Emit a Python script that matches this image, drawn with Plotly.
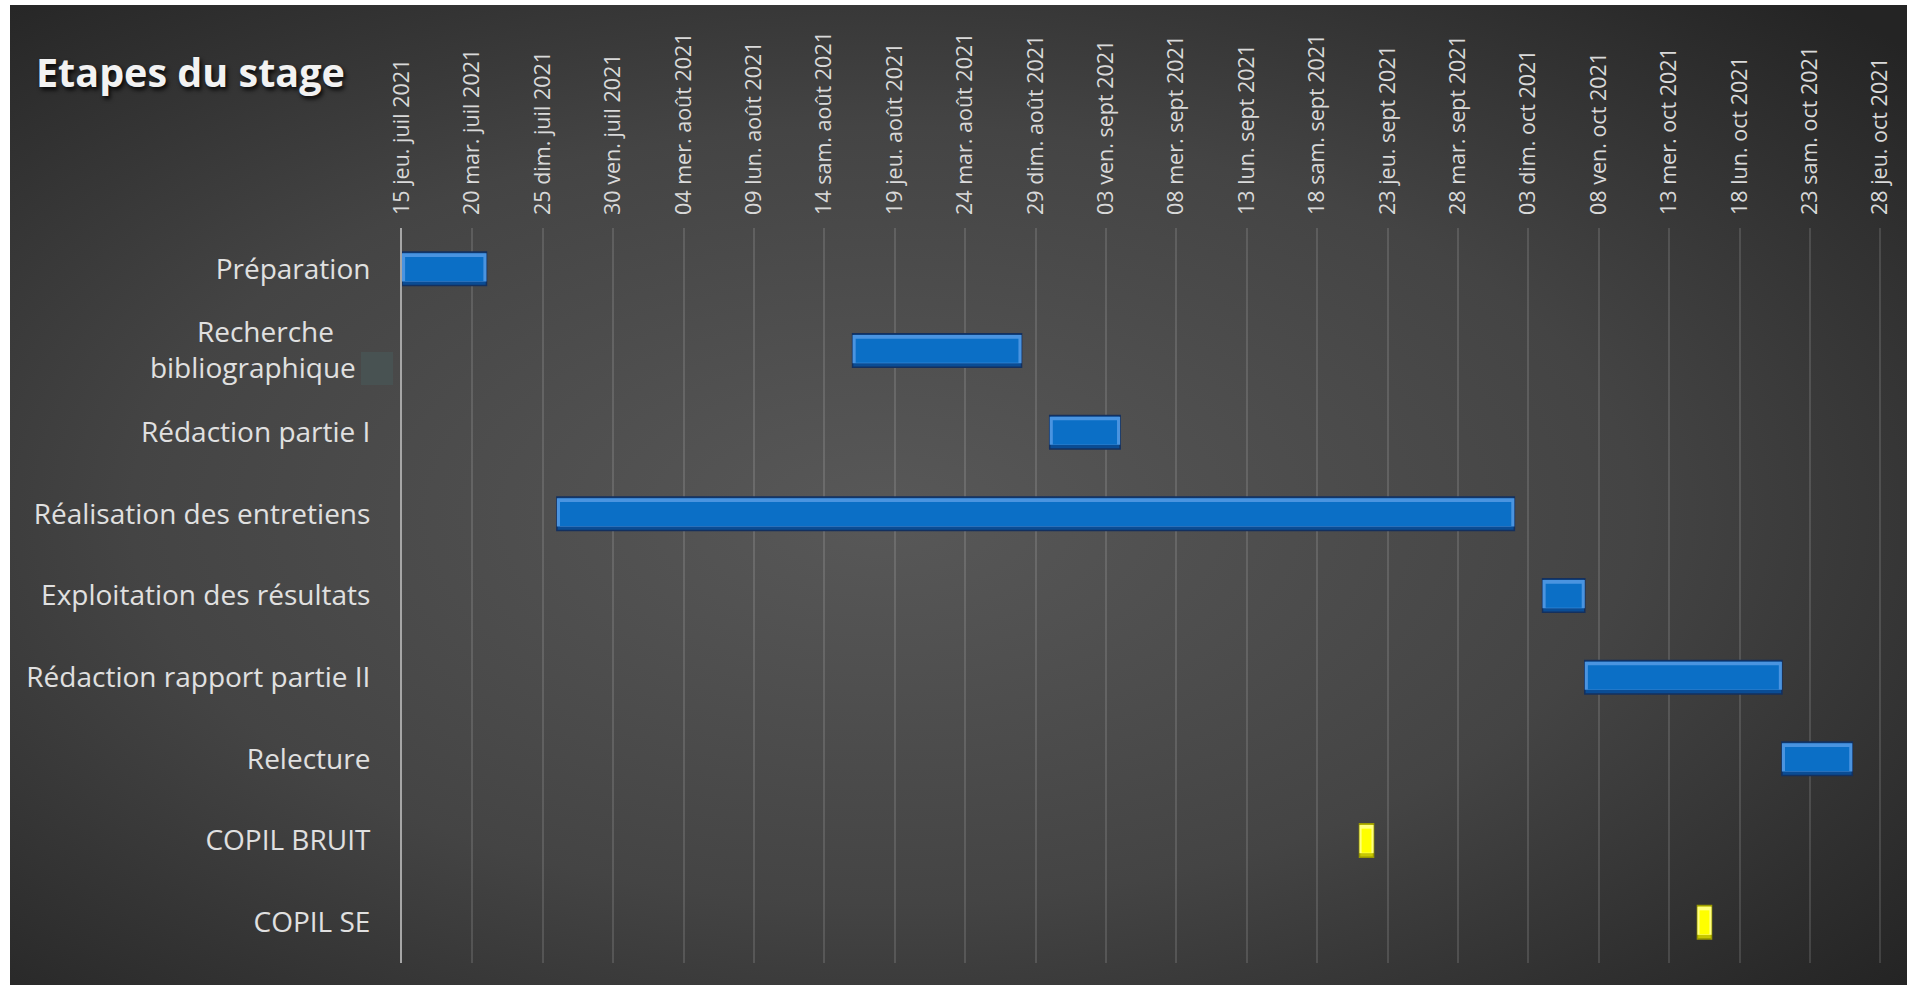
import base64
import pandas as pd
import plotly.graph_objects as go

# ---------------- data ----------------
tasks = [
    "Préparation",
    "Recherche bibliographique",
    "Rédaction partie I",
    "Réalisation des entretiens",
    "Exploitation des résultats",
    "Rédaction rapport partie II",
    "Relecture",
    "COPIL BRUIT",
    "COPIL SE",
]
task_labels = [
    "Préparation",
    "Recherche" + "\u00a0" * 5 + "<br>bibliographique" + "\u00a0" * 2,
    "Rédaction partie I",
    "Réalisation des entretiens",
    "Exploitation des résultats",
    "Rédaction rapport partie II",
    "Relecture",
    "COPIL BRUIT",
    "COPIL SE",
]
start_dates = [
    "2021-07-15", "2021-08-16", "2021-08-30", "2021-07-26", "2021-10-04",
    "2021-10-07", "2021-10-21", "2021-09-21", "2021-10-15",
]
duration_days = [6, 12, 5, 68, 3, 14, 5, 1, 1]
kinds = ["etape"] * 7 + ["copil"] * 2

tick_dates = [
    "2021-07-15", "2021-07-20", "2021-07-25", "2021-07-30", "2021-08-04",
    "2021-08-09", "2021-08-14", "2021-08-19", "2021-08-24", "2021-08-29",
    "2021-09-03", "2021-09-08", "2021-09-13", "2021-09-18", "2021-09-23",
    "2021-09-28", "2021-10-03", "2021-10-08", "2021-10-13", "2021-10-18",
    "2021-10-23", "2021-10-28",
]
tick_labels = [
    "15 jeu. juil 2021", "20 mar. juil 2021", "25 dim. juil 2021", "30 ven. juil 2021",
    "04 mer. août 2021", "09 lun. août 2021", "14 sam. août 2021", "19 jeu. août 2021",
    "24 mar. août 2021", "29 dim. août 2021", "03 ven. sept 2021", "08 mer. sept 2021",
    "13 lun. sept 2021", "18 sam. sept 2021", "23 jeu. sept 2021", "28 mar. sept 2021",
    "03 dim. oct 2021", "08 ven. oct 2021", "13 mer. oct 2021", "18 lun. oct 2021",
    "23 sam. oct 2021", "28 jeu. oct 2021",
]
x_range = ["2021-07-15", "2021-10-28 06:00"]

# ---------------- styling ----------------
W, H = 1914, 987
L, R, T, B = 402, 30, 228, 24
PW, PH = W - L - R, H - T - B

# bevel palette: (border, bottom band, top band, body)
palette = {
    "etape": ("#14305e", "#0a4c94", "#4a94e0", "#0b6fc6"),
    "copil": ("#9a9a00", "#c8c800", "#ffff80", "#ffff00"),
}

ms_per_day = 24 * 3600 * 1000
starts = pd.to_datetime(start_dates)
durations_ms = [d * ms_per_day for d in duration_days]

fig = go.Figure()

# outer bar (border + dark bottom band)
fig.add_trace(go.Bar(
    y=tasks, x=durations_ms, base=starts, orientation="h",
    width=0.41, offset=-0.205,
    marker=dict(color=[palette[k][1] for k in kinds],
                line=dict(color=[palette[k][0] for k in kinds], width=1.5)),
    showlegend=False, hoverinfo="skip",
))
# light top band
fig.add_trace(go.Bar(
    y=tasks, x=durations_ms, base=starts, orientation="h",
    width=0.345, offset=-0.19,
    marker=dict(color=[palette[k][2] for k in kinds], line=dict(width=0)),
    showlegend=False, hoverinfo="skip",
))
# body (inset horizontally)
inset_days = [0.22 if d > 2 else 0.15 for d in duration_days]
body_base = [s + pd.Timedelta(days=i) for s, i in zip(starts, inset_days)]
body_len = [(d - 2 * i) * ms_per_day for d, i in zip(duration_days, inset_days)]
fig.add_trace(go.Bar(
    y=tasks, x=body_len, base=body_base, orientation="h",
    width=0.295, offset=-0.145,
    marker=dict(color=[palette[k][3] for k in kinds], line=dict(width=0)),
    showlegend=False, hoverinfo="skip",
))

# background gradient panel (as svg image)
panel_w, panel_h = 1897, 980
svg = (
    f"<svg xmlns='http://www.w3.org/2000/svg' width='{panel_w}' height='{panel_h}' "
    f"viewBox='0 0 {panel_w} {panel_h}' preserveAspectRatio='none'>"
    "<defs><radialGradient id='g' cx='0.46' cy='0.52' r='0.72'>"
    "<stop offset='0' stop-color='#585858'/>"
    "<stop offset='0.55' stop-color='#444444'/>"
    "<stop offset='1' stop-color='#242424'/>"
    "</radialGradient></defs>"
    f"<rect width='{panel_w}' height='{panel_h}' fill='url(#g)'/></svg>"
)
src = "data:image/svg+xml;base64," + base64.b64encode(svg.encode()).decode()

def px_x(p):
    return (p - L) / PW

def px_y(p):
    return (H - B - p) / PH

fig.add_layout_image(dict(
    source=src, xref="paper", yref="paper",
    x=px_x(10), y=px_y(5), sizex=panel_w / PW, sizey=panel_h / PH,
    xanchor="left", yanchor="top", sizing="stretch", layer="below",
))

# small grey box next to the "bibliographique" label
fig.add_shape(
    type="rect", xref="paper", yref="paper",
    x0=px_x(361), x1=px_x(393), y0=px_y(385), y1=px_y(352),
    fillcolor="#485252", line=dict(width=0),
)

fig.update_layout(
    width=W, height=H,
    margin=dict(l=L, r=R, t=T, b=B),
    paper_bgcolor="white",
    plot_bgcolor="rgba(0,0,0,0)",
    barmode="overlay",
    font=dict(family="Open Sans", color="#d9d9d9"),
    title=dict(
        text="Etapes du stage",
        xref="container", yref="container",
        x=36 / W, y=1 - 73 / H, xanchor="left", yanchor="middle",
        font=dict(family="Open Sans", size=39.5, weight="bold", color="#f2f2f2",
                  shadow="2px 3px 4px rgba(0,0,0,0.85)"),
    ),
    xaxis=dict(
        type="date",
        side="top",
        range=x_range,
        tickvals=tick_dates,
        ticktext=tick_labels,
        tickangle=-90,
        tickfont=dict(size=21.5, color="#d9d9d9"),
        ticklabelstandoff=12,
        showgrid=True,
        gridcolor="rgba(255,255,255,0.13)",
        gridwidth=1.5,
        showline=False,
        zeroline=False,
        ticks="",
    ),
    yaxis=dict(
        type="category",
        categoryorder="array",
        categoryarray=tasks,
        tickvals=tasks,
        ticktext=task_labels,
        autorange="reversed",
        tickfont=dict(size=28, color="#e0e0e0"),
        ticklabelstandoff=24,
        showgrid=False,
        showline=True,
        linecolor="#a6a6a6",
        linewidth=2,
        ticks="",
        zeroline=False,
    ),
)

fig.write_html("out.html")
